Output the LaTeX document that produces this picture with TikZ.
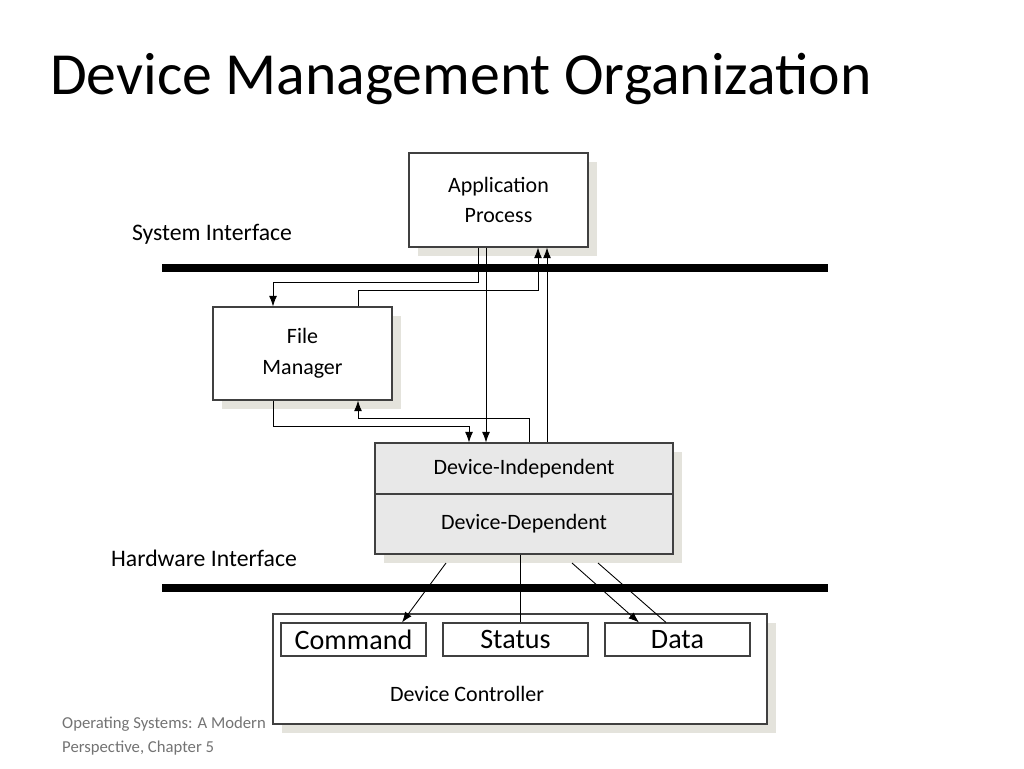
\documentclass[tikz,border=0pt]{standalone}
\usepackage{fontspec}
\setmainfont{Carlito}
\usetikzlibrary{arrows.meta}
\begin{document}
\begin{tikzpicture}[x={(0.02cm,0)},y={(0,-0.02cm)},
  box/.style={draw=black!75,line width=0.6pt,fill=white},
  shadow/.style={fill=black!8!yellow!4!white!88!black},
  conn/.style={draw=black,line width=0.5pt},
  arr/.style={conn,-{Latex[length=6pt,width=4.5pt]}},
  bar/.style={line width=4pt},
  lbl/.style={font=\fontsize{13.5}{16}\selectfont}]
\useasboundingbox (0,0) rectangle (1024,768);
% shadows
\foreach \a/\b/\c/\d in {409/153/588/247, 213/307/392/400, 375/443/673/554, 273/614/767/724, 281/623/426/656, 443/623/588/656, 605/623/750/656}
  \fill[shadow] (\a+9,\b+9) rectangle (\c+9,\d+9);
% title
\node[anchor=west,font=\fontsize{34}{40}\selectfont] (title) at (44,79) {Device Management Organization};
% boxes
\node[box,minimum width=179*0.02cm,minimum height=94*0.02cm,align=center,font=\fontsize{12.5}{17.5}\selectfont] (app) at (498.5,200) {Application\\Process};
\node[box,minimum width=179*0.02cm,minimum height=93*0.02cm,align=center,font=\fontsize{12.5}{17.5}\selectfont] (fm) at (302.5,353.5) {File\\Manager};
\node[box,fill=black!9,minimum width=298*0.02cm,minimum height=51*0.02cm,font=\fontsize{12.5}{15}\selectfont] (di) at (524,468.5) {Device-Independent};
\node[box,fill=black!9,minimum width=298*0.02cm,minimum height=60*0.02cm,font=\fontsize{12.5}{15}\selectfont] (dd) at (524,524) {Device-Dependent};
\node[box,minimum width=494*0.02cm,minimum height=110*0.02cm] (dc) at (520,669) {};
\node[font=\fontsize{12.5}{15}\selectfont] (dctext) at (467,694) {Device Controller};
\node[box,minimum width=145*0.02cm,minimum height=33*0.02cm,font=\fontsize{16}{18}\selectfont] (cmd) at (353.5,639.5) {Command};
\node[box,minimum width=145*0.02cm,minimum height=33*0.02cm,font=\fontsize{16}{18}\selectfont] (st) at (515.5,639.5) {Status};
\node[box,minimum width=145*0.02cm,minimum height=33*0.02cm,font=\fontsize{16}{18}\selectfont] (data) at (677.5,639.5) {Data};
% interfaces
\node[lbl] (si) at (212,234) {System Interface};
\node[lbl] (hi) at (204,558) {Hardware Interface};
\coordinate (s1) at (162,268); \coordinate (s2) at (828,268);
\coordinate (h1) at (162,588); \coordinate (h2) at (828,588);
\draw[bar] (s1) -- (s2);
\draw[bar] (h1) -- (h2);
% connectors
\draw[arr] (app.south -| 478,0) |- (273,282) -- (fm.north -| 273,0);
\draw[arr] (fm.north -| 358,0) |- (538,290) -- (app.south -| 538,0);
\draw[arr] (app.south -| 486,0) -- (di.north -| 486,0);
\draw[arr] (di.north -| 547,0) -- (app.south -| 547,0);
\draw[arr] (fm.south -| 273,0) |- (469,426) -- (di.north -| 469,0);
\draw[arr] (di.north -| 529,0) |- (358,418) -- (fm.south -| 358,0);
\draw[arr] (446,563) -- (cmd.north -| 402,0);
\draw[conn] (dd.south -| 520,0) -- (st.north -| 520,0);
\draw[arr] (572,563) -- (data.north -| 639,0);
\draw[conn] (598,563) -- (data.north -| 666,0);
% footer
\node[anchor=north west,align=left,text=black!55,font=\fontsize{9.5}{13.5}\selectfont] (foot) at (56,711) {Operating Systems: A Modern\\Perspective, Chapter 5};
\end{tikzpicture}
\end{document}
